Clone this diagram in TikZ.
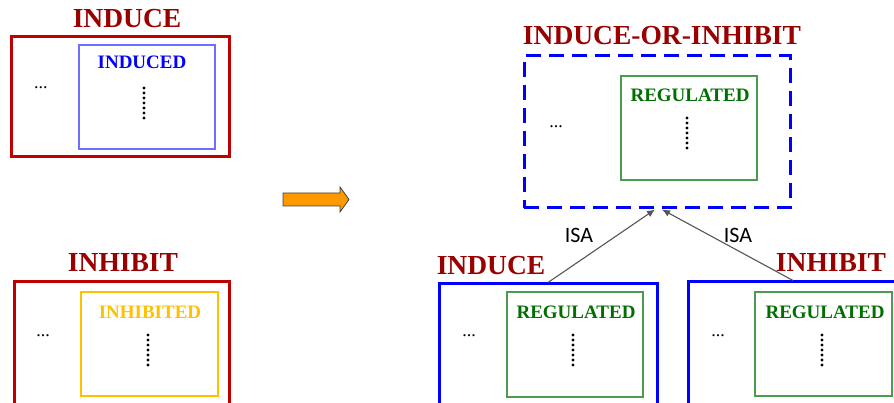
\documentclass[tikz,border=0pt]{standalone}
\usepackage{fontspec}
\setmainfont{Liberation Serif}
\newfontfamily\isafont{Carlito}
\usetikzlibrary{arrows.meta}
\definecolor{titlered}{HTML}{990000}
\definecolor{boxred}{HTML}{C00000}
\definecolor{boxblue}{HTML}{0000FF}
\definecolor{lightblue}{HTML}{6E6EFF}
\definecolor{gold}{HTML}{FFC000}
\definecolor{txtgreen}{HTML}{006E00}
\definecolor{boxgreen}{HTML}{4E9A4E}
\definecolor{orangefill}{HTML}{FF9900}
\definecolor{conngray}{HTML}{555555}
\tikzset{
  title/.style={text=titlered, font=\fontsize{27.5}{27.5}\selectfont\bfseries, anchor=base, inner sep=0pt},
  inlabel/.style={font=\fontsize{19}{19}\selectfont\bfseries, anchor=base, inner sep=0pt},
  isalabel/.style={font=\fontsize{22}{22}\selectfont\isafont, anchor=base, inner sep=0pt},
  ell/.style={font=\fontsize{18}{18}\selectfont, anchor=base, inner sep=0pt},
  conn/.style={draw=conngray, line width=1.1pt, -{Latex[length=8pt,width=7pt]}},
}
\newcommand{\vdotcol}[2]{\foreach \i in {0,...,6} \fill (#1,#2+5*\i) circle (1.6);}
\begin{document}
\begin{tikzpicture}[x=1pt,y=-1pt]
\useasboundingbox (0,0) rectangle (894,403);
\clip (0,0) rectangle (894,403);
% ---------- top-left INDUCE
\node[title] (t1) at (127,28) {INDUCE};
\node[draw=boxred, line width=3pt, minimum width=218, minimum height=120, inner sep=0pt] (b1) at (120,97) {};
\node[draw=lightblue, line width=1.1pt, minimum width=136, minimum height=104, inner sep=0pt] (i1) at (147,97) {};
\node[inlabel, text=boxblue] (l1) at (142,69) {INDUCED};
\node[ell] (e1) at (41,89) {...};
\vdotcol{144}{88}
% ---------- bottom-left INHIBIT
\node[title] (t2) at (123,272) {INHIBIT};
\node[draw=boxred, line width=3pt, minimum width=215, minimum height=122, inner sep=0pt] (b2) at (121.5,343) {};
\node[draw=gold, line width=1.1pt, minimum width=137, minimum height=104, inner sep=0pt] (i2) at (149.5,344) {};
\node[inlabel, text=gold] (l2) at (150,318) {INHIBITED};
\node[ell] (e2) at (43,336) {...};
\vdotcol{148}{335}
% ---------- orange arrow
\path[draw=black!75, line width=0.8pt, fill=orangefill]
  (283,193) -- (340,193) -- (340,187) -- (349,199.5) -- (340,212) -- (340,206) -- (283,206) -- cycle;
% ---------- INDUCE-OR-INHIBIT
\node[title] (t3) at (662,45) {INDUCE-OR-INHIBIT};
\node[draw=boxblue, line width=3pt, dash pattern=on 15pt off 8pt, minimum width=266, minimum height=152, inner sep=0pt] (b3) at (657,132) {};
\node[draw=boxgreen, line width=1.1pt, minimum width=136, minimum height=104, inner sep=0pt] (i3) at (689,128) {};
\node[inlabel, text=txtgreen] (l3) at (690,102) {REGULATED};
\node[ell] (e3) at (556,128) {...};
\vdotcol{687}{118}
% ---------- bottom INDUCE
\node[title] (t4) at (491,275) {INDUCE};
\node[draw=boxblue, line width=3pt, minimum width=218, minimum height=122, inner sep=0pt] (b4) at (548,345) {};
\node[draw=boxgreen, line width=1.1pt, minimum width=136, minimum height=105, inner sep=0pt] (i4) at (575,344.5) {};
\node[inlabel, text=txtgreen] (l4) at (576,318) {REGULATED};
\node[ell] (e4) at (469,336) {...};
\vdotcol{573}{335}
% ---------- bottom INHIBIT
\node[title] (t5) at (831,272) {INHIBIT};
\node[draw=boxblue, line width=3pt, minimum width=210, minimum height=124, inner sep=0pt] (b5) at (793,344) {};
\node[draw=boxgreen, line width=1.1pt, minimum width=137, minimum height=104, inner sep=0pt] (i5) at (823.5,344) {};
\node[inlabel, text=txtgreen] (l5) at (825,318) {REGULATED};
\node[ell] (e5) at (718,336) {...};
\vdotcol{822}{335}
% ---------- ISA connectors
\coordinate (ta) at ([xshift=-2pt]b3.south);
\coordinate (tb) at ([xshift=5pt]b3.south);
\draw[conn] (b4.north) -- (ta);
\draw[conn] (b5.north) -- (tb);
\node[isalabel] (s1) at (579,243) {ISA};
\node[isalabel] (s2) at (738,243) {ISA};
\end{tikzpicture}
\end{document}
